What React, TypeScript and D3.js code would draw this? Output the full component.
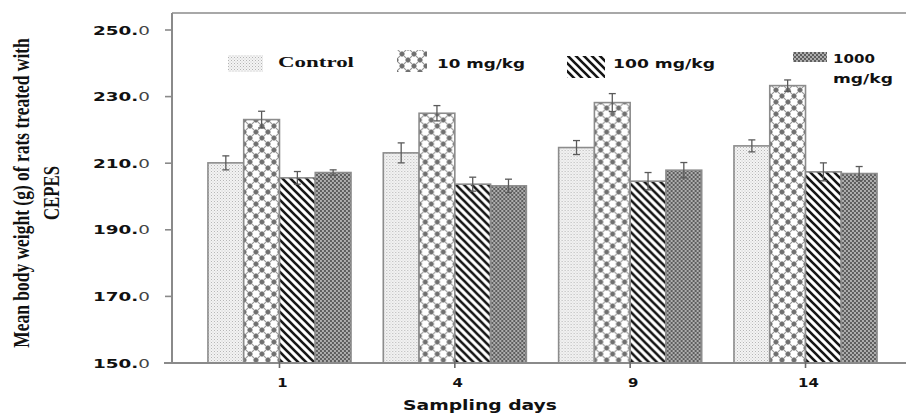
import React, { useLayoutEffect, useRef, useState } from "react";
import * as d3 from "d3";

const categories = ["1", "4", "9", "14"];
const seriesKeys = ["control", "mg10", "mg100", "mg1000"];
const seriesLabels = ["Control", "10 mg/kg", "100 mg/kg", "1000 mg/kg"];
const controlValues = [210.1, 213.1, 214.7, 215.2];
const controlErrors = [2.1, 3.0, 2.1, 1.8];
const mg10Values = [223.1, 225.0, 228.2, 233.3];
const mg10Errors = [2.5, 2.3, 2.7, 1.7];
const mg100Values = [205.6, 203.7, 204.6, 207.4];
const mg100Errors = [1.9, 2.1, 2.6, 2.7];
const mg1000Values = [207.2, 203.2, 207.9, 206.9];
const mg1000Errors = [0.8, 2.0, 2.3, 2.1];
const yTicks = [150, 170, 190, 210, 230, 250];
const xTitle = "Sampling days";
const yTitleLines = ["Mean body weight (g) of rats treated with", "CEPES"];

const values = [controlValues, mg10Values, mg100Values, mg1000Values];
const errors = [controlErrors, mg10Errors, mg100Errors, mg1000Errors];

const SANS = "'DejaVu Sans', Verdana, sans-serif";
const SERIF = "'Liberation Serif', 'Times New Roman', serif";

function RotatedFitText(props: { x: number; y: number; length: number; size: number; children: string }) {
  const ref = useRef<SVGTextElement>(null);
  const [sx, setSx] = useState(1);
  useLayoutEffect(() => {
    if (ref.current) {
      const natural = ref.current.getComputedTextLength();
      if (natural > 0) setSx(props.length / natural);
    }
  }, [props.length, props.children]);
  return (
    <text
      ref={ref}
      transform={`translate(${props.x},${props.y}) rotate(-90) scale(${sx},1)`}
      textAnchor="middle"
      fontFamily={SERIF}
      fontWeight="bold"
      fontSize={props.size}
      fill="#111"
    >
      {props.children}
    </text>
  );
}

export default function App() {
  const W = 906;
  const H = 414;
  const left = 172;
  const bottom = 363;
  const frameTop = 13;
  const right = 913;

  const x0 = d3
    .scaleBand<string>()
    .domain(categories)
    .range([left, right])
    .paddingInner(0.184)
    .paddingOuter(0.205);
  const x1 = d3.scaleBand<string>().domain(seriesKeys).range([0, x0.bandwidth()]);
  const y = d3.scaleLinear().domain([150, 250]).range([bottom, 30]);

  const fills = ["url(#pControl)", "url(#p10)", "url(#p100)", "url(#p1000)"];

  const legend = [
    { sw: [228, 55, 35, 17], tx: 278, ty: 67, tl: 76, serif: true, lines: ["Control"] },
    { sw: [397, 50, 30, 22], tx: 437, ty: 68, tl: 88, serif: false, lines: ["10 mg/kg"] },
    { sw: [567, 56, 38, 22], tx: 613, ty: 68, tl: 102, serif: false, lines: ["100 mg/kg"] },
    { sw: [793, 52, 34, 10], tx: 833, ty: 63, tl: 0, serif: false, lines: ["1000", "mg/kg"] },
  ];

  return (
    <svg
      width={W}
      height={H}
      viewBox={`0 0 ${W} ${H}`}
      style={{ position: "absolute", left: 0, top: 0, display: "block", background: "#fff" }}
    >
      <defs>
        <pattern id="pControl" patternUnits="userSpaceOnUse" width="3" height="3">
          <rect width="3" height="3" fill="#f4f4f4" />
          <rect x="0" y="0" width="1" height="1" fill="#b4b4b4" />
          <rect x="1.5" y="1.5" width="1" height="1" fill="#c8c8c8" />
        </pattern>
        <pattern id="p10" patternUnits="userSpaceOnUse" width="12" height="12">
          <rect width="12" height="12" fill="#fff" />
          <path d="M0,0 L12,12 M12,0 L0,12" stroke="#959595" strokeWidth="1.1" />
          <path d="M6,3 L9,6 L6,9 L3,6 Z" fill="#707070" />
          <path d="M0,-3 L3,0 L0,3 L-3,0 Z" fill="#707070" />
          <path d="M12,-3 L15,0 L12,3 L9,0 Z" fill="#707070" />
          <path d="M0,9 L3,12 L0,15 L-3,12 Z" fill="#707070" />
          <path d="M12,9 L15,12 L12,15 L9,12 Z" fill="#707070" />
        </pattern>
        <pattern id="p100" patternUnits="userSpaceOnUse" width="8" height="8">
          <rect width="8" height="8" fill="#fff" />
          <path d="M-2,-2 L10,10 M-6,2 L2,10 M6,-2 L14,6" stroke="#151515" strokeWidth="2.6" />
        </pattern>
        <pattern id="p1000" patternUnits="userSpaceOnUse" width="4" height="4">
          <rect width="4" height="4" fill="#5e5e5e" />
          <circle cx="1" cy="1" r="0.9" fill="#d4d4d4" />
          <circle cx="3" cy="3" r="0.9" fill="#d4d4d4" />
        </pattern>
      </defs>

      {/* frame */}
      <line x1={left} x2={right} y1={frameTop} y2={frameTop} stroke="#a8a8a8" strokeWidth={2} />

      {/* bars */}
      {categories.map((c, ci) => (
        <g key={c} transform={`translate(${x0(c)},0)`}>
          {seriesKeys.map((k, si) => {
            const v = values[si][ci];
            const bx = x1(k)!;
            const bw = x1.bandwidth();
            return (
              <rect
                key={k}
                x={bx}
                y={y(v)}
                width={bw}
                height={bottom - y(v)}
                fill={fills[si]}
                stroke="#8c8c8c"
                strokeWidth={1.6}
              />
            );
          })}
          {seriesKeys.map((k, si) => {
            const v = values[si][ci];
            const e = errors[si][ci];
            const cx = x1(k)! + x1.bandwidth() / 2;
            return (
              <g key={k + "e"} stroke="#5a5a5a" strokeWidth={1.3}>
                <line x1={cx} x2={cx} y1={y(v + e)} y2={y(v - e)} />
                <line x1={cx - 3.5} x2={cx + 3.5} y1={y(v + e)} y2={y(v + e)} />
                <line x1={cx - 3.5} x2={cx + 3.5} y1={y(v - e)} y2={y(v - e)} />
              </g>
            );
          })}
        </g>
      ))}

      {/* y axis */}
      <line x1={left} x2={left} y1={frameTop} y2={bottom + 1} stroke="#8a8a8a" strokeWidth={2} />
      {yTicks.map((t) => {
        const s = t.toFixed(1);
        const head = s.slice(0, -1);
        const tail = s.slice(-1);
        return (
          <g key={t}>
            <line x1={left - 7} x2={left} y1={y(t)} y2={y(t)} stroke="#8a8a8a" strokeWidth={1.6} />
            <text
              x={150}
              y={y(t)}
              dy="0.36em"
              textAnchor="end"
              fontFamily={SANS}
              fontSize={12.5}
              textLength={57}
              lengthAdjust="spacingAndGlyphs"
              fill="#111"
            >
              <tspan fontWeight="bold">{head}</tspan>
              <tspan fontWeight="normal" fill="#444">{tail}</tspan>
            </text>
          </g>
        );
      })}

      {/* x axis */}
      <line x1={164} x2={right} y1={bottom} y2={bottom} stroke="#8a8a8a" strokeWidth={2} />
      {categories.map((c) => {
        const cx = x0(c)! + x0.bandwidth() / 2;
        return (
          <g key={c}>
            <line x1={cx} x2={cx} y1={bottom - 2} y2={bottom + 5} stroke="#6a6a6a" strokeWidth={1.6} />
            <text
              x={cx + 3}
              y={387}
              textAnchor="middle"
              fontFamily={SANS}
              fontWeight="bold"
              fontSize={11.5}
              transform={`translate(${cx + 3},0) scale(1.3,1) translate(${-(cx + 3)},0)`}
              fill="#111"
            >
              {c}
            </text>
          </g>
        );
      })}
      <text
        x={403}
        y={410}
        fontFamily={SANS}
        fontWeight="bold"
        fontSize={13.5}
        textLength={154}
        lengthAdjust="spacingAndGlyphs"
        fill="#111"
      >
        {xTitle}
      </text>

      {/* y title */}
      <RotatedFitText x={29} y={193} length={310} size={23}>
        {yTitleLines[0]}
      </RotatedFitText>
      <RotatedFitText x={59} y={193} length={54} size={23}>
        {yTitleLines[1]}
      </RotatedFitText>

      {/* legend */}
      {legend.map((l, i) => (
        <g key={seriesLabels[i]}>
          <rect x={l.sw[0]} y={l.sw[1]} width={l.sw[2]} height={l.sw[3]} fill={fills[i]} />
          {l.lines.length === 1 ? (
            <text
              x={l.tx}
              y={l.ty}
              fontFamily={l.serif ? SERIF : SANS}
              fontWeight="bold"
              fontSize={l.serif ? 15 : 12.5}
              textLength={l.tl}
              lengthAdjust="spacingAndGlyphs"
              fill="#111"
            >
              {seriesLabels[i]}
            </text>
          ) : (
            <g>
              <text
                x={l.tx}
                y={l.ty}
                fontFamily={SANS}
                fontWeight="bold"
                fontSize={12.5}
                textLength={42}
                lengthAdjust="spacingAndGlyphs"
                fill="#111"
              >
                {l.lines[0]}
              </text>
              <text
                x={l.tx}
                y={l.ty + 20}
                fontFamily={SANS}
                fontWeight="bold"
                fontSize={12.5}
                textLength={60}
                lengthAdjust="spacingAndGlyphs"
                fill="#111"
              >
                {l.lines[1]}
              </text>
            </g>
          )}
        </g>
      ))}
    </svg>
  );
}
